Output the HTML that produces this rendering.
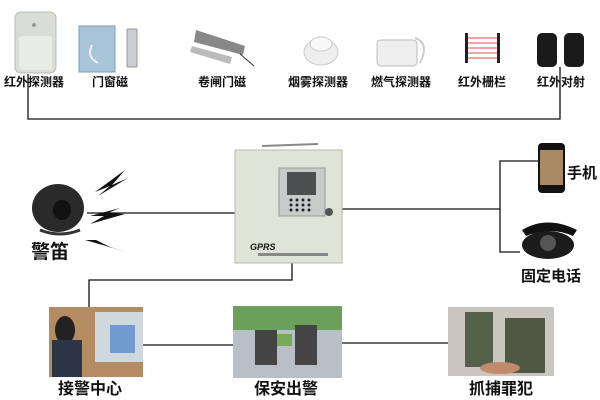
<!DOCTYPE html>
<html><head><meta charset="utf-8"><style>
html,body{margin:0;padding:0;background:#fff;}
svg{display:block;}
text{font-family:"Liberation Sans","Noto Sans CJK SC","WenQuanYi Zen Hei",sans-serif;font-weight:bold;fill:#111;}
</style></head><body>
<svg width="600" height="400" viewBox="0 0 600 400" xmlns="http://www.w3.org/2000/svg">
<rect width="600" height="400" fill="#fff"/>
<!-- connector lines -->
<g stroke="#111" stroke-width="1.3" fill="none">
<polyline points="28,74 28,119 560,119 560,67"/>
<line x1="87" y1="213" x2="235" y2="213"/>
<line x1="342" y1="209" x2="500" y2="209"/>
<polyline points="538,161 500,161 500,252 520,252"/>
<polyline points="292,263 292,280 89,280 89,307"/>
<line x1="143" y1="345" x2="233" y2="345"/>
<line x1="342" y1="343" x2="448" y2="343"/>
</g>
<!-- top devices -->
<rect x="15" y="12" width="41" height="61" rx="6" fill="#d9ddd6" stroke="#b8bcb5"/>
<rect x="19" y="36" width="33" height="34" rx="3" fill="#e8ebe6"/>
<circle cx="34" cy="25" r="2" fill="#999"/>
<rect x="79" y="26" width="36" height="46" fill="#a9c3d9" stroke="#7f9cb5"/>
<path d="M92 45 q-6 12 6 18" stroke="#eef" fill="none" stroke-width="2"/>
<rect x="127" y="29" width="10" height="38" fill="#c9ced4" stroke="#999"/>
<polygon points="196,30 245,46 243,55 194,42" fill="#888"/>
<polygon points="192,46 232,57 230,64 190,52" fill="#bbb"/>
<path d="M240 54 l14 12" stroke="#333"/>
<ellipse cx="321" cy="52" rx="17" ry="13" fill="#eee" stroke="#ccc"/>
<ellipse cx="321" cy="44" rx="11" ry="7" fill="#f8f8f8" stroke="#ccc"/>
<rect x="377" y="40" width="40" height="26" rx="4" fill="#eee" stroke="#bbb"/>
<path d="M415 38 q15 5 5 25" stroke="#ccc" fill="none" stroke-width="2"/>
<rect x="465" y="33" width="3" height="30" fill="#222"/><rect x="497" y="33" width="3" height="30" fill="#222"/>
<g stroke="#e88" stroke-width="1.5"><line x1="468" y1="38" x2="497" y2="38"/><line x1="468" y1="43" x2="497" y2="43"/><line x1="468" y1="48" x2="497" y2="48"/><line x1="468" y1="53" x2="497" y2="53"/><line x1="468" y1="58" x2="497" y2="58"/></g>
<rect x="537" y="33" width="20" height="34" rx="5" fill="#1a1a1a"/>
<rect x="564" y="33" width="20" height="34" rx="5" fill="#1a1a1a"/>
<g font-size="12">
<text x="4" y="86">红外探测器</text>
<text x="92" y="86">门窗磁</text>
<text x="198" y="86">卷闸门磁</text>
<text x="288" y="86">烟雾探测器</text>
<text x="371" y="86">燃气探测器</text>
<text x="458" y="86">红外栅栏</text>
<text x="537" y="86">红外对射</text>
</g>
<!-- main box -->
<line x1="262" y1="146" x2="318" y2="144" stroke="#888" stroke-width="2"/>
<rect x="235" y="150" width="107" height="113" fill="#dfe3d8" stroke="#b5b9ae"/>
<rect x="279" y="168" width="46" height="48" fill="#c7ccc9" stroke="#999"/>
<rect x="287" y="172" width="29" height="23" fill="#4a5050"/>
<g fill="#223">
<circle cx="291" cy="200" r="1.5"/><circle cx="297" cy="200" r="1.5"/><circle cx="303" cy="200" r="1.5"/><circle cx="309" cy="200" r="1.5"/>
<circle cx="291" cy="205" r="1.5"/><circle cx="297" cy="205" r="1.5"/><circle cx="303" cy="205" r="1.5"/><circle cx="309" cy="205" r="1.5"/>
<circle cx="291" cy="210" r="1.5"/><circle cx="297" cy="210" r="1.5"/><circle cx="303" cy="210" r="1.5"/><circle cx="309" cy="210" r="1.5"/>
</g>
<circle cx="329" cy="212" r="4" fill="#555"/>
<text x="250" y="250" font-size="9" font-style="italic" font-weight="normal" fill="#555">GPRS</text>
<rect x="258" y="253" width="70" height="3" fill="#888"/>
<!-- siren -->
<ellipse cx="58" cy="208" rx="26" ry="24" fill="#2a2a2a"/>
<ellipse cx="62" cy="210" rx="9" ry="10" fill="#111"/>
<path d="M40 230 q20 8 40 0" stroke="#333" stroke-width="3" fill="none"/>
<g fill="#111">
<polygon points="95,192 125,170 112,185 128,178 98,196 110,186"/>
<polygon points="90,216 120,208 108,213 125,214 90,224 104,216"/>
<polygon points="82,233 112,248 100,244 127,252 85,240 96,240"/>
</g>
<text x="31" y="258" font-size="19">警笛</text>
<!-- phone -->
<rect x="538" y="143" width="27" height="50" rx="4" fill="#111"/>
<rect x="540" y="150" width="23" height="35" fill="#a98a64"/>
<text x="567" y="178" font-size="15">手机</text>
<!-- telephone -->
<ellipse cx="548" cy="245" rx="26" ry="14" fill="#1c1c1c"/>
<path d="M522 230 q25 -15 55 0 l-4 6 q-22 -10 -47 0z" fill="#111"/>
<circle cx="548" cy="243" r="8" fill="#555"/>
<text x="521" y="281" font-size="15">固定电话</text>
<!-- bottom photos -->
<rect x="49" y="307" width="94" height="70" fill="#b58b62"/>
<rect x="95" y="312" width="48" height="50" fill="#cfd8dc"/>
<rect x="110" y="325" width="25" height="28" fill="#6f9bd0"/>
<ellipse cx="65" cy="330" rx="10" ry="14" fill="#222"/>
<rect x="52" y="340" width="30" height="37" fill="#2c3445"/>
<rect x="233" y="306" width="109" height="72" fill="#b9bfc6"/>
<rect x="233" y="306" width="109" height="24" fill="#6aa05a"/>
<rect x="255" y="330" width="22" height="35" fill="#444"/>
<rect x="295" y="325" width="22" height="40" fill="#444"/>
<rect x="277" y="334" width="15" height="12" fill="#7a5"/>
<rect x="448" y="307" width="106" height="69" fill="#c9c6c0"/>
<rect x="465" y="312" width="28" height="55" fill="#55604a"/>
<rect x="505" y="318" width="40" height="55" fill="#4e5842"/>
<ellipse cx="500" cy="368" rx="20" ry="6" fill="#c28a6c"/>
<g font-size="16">
<text x="58" y="394">接警中心</text>
<text x="254" y="394">保安出警</text>
<text x="469" y="394">抓捕罪犯</text>
</g>
</svg>
</body></html>
